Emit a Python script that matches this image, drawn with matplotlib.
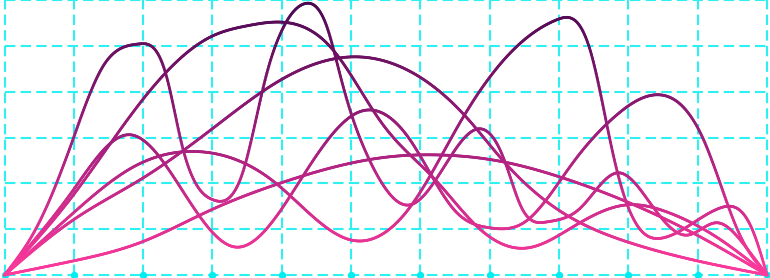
import numpy as np
import matplotlib
matplotlib.use('Agg')
import matplotlib.pyplot as plt
from matplotlib.collections import LineCollection
from matplotlib.colors import LinearSegmentedColormap

# knots (x in grid columns 0..11, y in grid rows 0..6)
a_x = [0, 0.45, 0.95, 1.42, 1.93, 2.34, 2.55, 3.01, 3.45, 3.76, 3.99, 4.33, 4.65,
       4.87, 5.3, 5.85, 6.4, 6.86, 7.2, 7.45, 7.83,
       8.3, 8.85, 9.3, 9.85, 10.28, 10.7, 11]
a_y = [0, 1.0, 2.8, 4.55, 5.04, 4.32, 2.9, 1.64, 2.3, 4.26, 5.3, 5.92, 5.42,
       4.2, 2.4, 1.53, 2.5, 3.19, 2.55, 1.5, 1.16,
       1.45, 2.23, 1.6, 0.87, 1.14, 0.6, 0]

b_x = [0, 0.97, 1.98, 2.98, 3.51, 4.74, 5.45, 6.2, 6.86, 7.54, 8.2, 8.98, 9.6, 10.3, 11]
b_y = [0, 1.70, 3.80, 5.20, 5.44, 4.91, 3.3, 2.1, 1.0, 0.59, 1.05, 1.53, 1.35, 0.8, 0]

c_x = [0, 0.99, 1.98, 2.98, 3.99, 5.06, 5.99, 6.67, 7.19, 8.01, 8.99, 9.99, 11]
c_y = [0, 1.20, 2.10, 3.17, 4.26, 4.76, 4.32, 3.43, 2.50, 1.40, 0.72, 0.31, 0]

d_x = [0, 0.99, 1.81, 2.5, 3.33, 4.26, 5.12, 5.85, 6.5, 7.0, 7.5, 8.2, 8.8, 9.46,
       10.1, 10.6, 11]
d_y = [0, 1.85, 3.06, 2.0, 0.61, 2.05, 3.56, 2.95, 1.4, 1.03, 1.15, 2.45, 3.45, 3.93,
       2.9, 0.9, 0]

e_x = [0, 0.99, 1.85, 2.82, 3.9, 5.01, 5.85, 6.6, 7.4, 7.97, 8.45, 8.8, 9.1, 9.5,
       10.32, 10.8, 11]
e_y = [0, 1.35, 2.35, 2.69, 2.02, 0.76, 1.48, 3.4, 5.0, 5.57, 4.9, 2.5, 1.15, 0.81,
       1.46, 0.95, 0]

f_x = [0, 0.97, 1.98, 2.98, 3.99, 5.56, 6.24, 7.19, 8.01, 9.02, 9.99, 11]
f_y = [0, 0.30, 0.72, 1.42, 2.01, 2.58, 2.62, 2.47, 2.14, 1.57, 0.87, 0]

series = [(a_x, a_y), (b_x, b_y), (c_x, c_y), (d_x, d_y), (e_x, e_y), (f_x, f_y)]
tick_x = list(range(12))


def smooth(xs, ys, n=800):
    # natural cubic spline through the knots
    x = np.asarray(xs, float)
    y = np.asarray(ys, float)
    nk = len(x)
    h = np.diff(x)
    A = np.zeros((nk, nk))
    r = np.zeros(nk)
    A[0, 0] = A[-1, -1] = 1
    for i in range(1, nk - 1):
        A[i, i - 1] = h[i - 1]
        A[i, i] = 2 * (h[i - 1] + h[i])
        A[i, i + 1] = h[i]
        r[i] = 6 * ((y[i + 1] - y[i]) / h[i] - (y[i] - y[i - 1]) / h[i - 1])
    M = np.linalg.solve(A, r)
    xx = np.linspace(x[0], x[-1], n)
    k = np.clip(np.searchsorted(x, xx) - 1, 0, nk - 2)
    t0 = x[k + 1] - xx
    t1 = xx - x[k]
    hk = h[k]
    yy = (M[k] * t0**3 + M[k + 1] * t1**3) / (6 * hk) \
        + (y[k] / hk - M[k] * hk / 6) * t0 + (y[k + 1] / hk - M[k + 1] * hk / 6) * t1
    return xx, yy


cmap = LinearSegmentedColormap.from_list('grad', ['#ff3a9d', '#a01e7c', '#4a0852'])
grid_c = '#2ef0f0'

fig = plt.figure(figsize=(7.7, 2.78), dpi=100)
ax = fig.add_axes([4.5 / 770, 3 / 278, 762.5 / 770, 275 / 278])
ax.set_xlim(0, 11)
ax.set_ylim(0, 6)
for s in ax.spines.values():
    s.set_visible(False)
ax.set_xticks([])
ax.set_yticks([])

for v in range(12):
    ax.axvline(v, color=grid_c, lw=1.5, dashes=(5, 2.5), zorder=1, clip_on=False)
for v in range(7):
    ax.axhline(v, color=grid_c, lw=1.5, dashes=(5, 2.5), zorder=1, clip_on=False)

ax.scatter(tick_x, [0] * len(tick_x), s=28, color='#00eef0', zorder=2, clip_on=False,
           linewidths=0)

for xs, ys in series:
    xx, yy = smooth(xs, ys)
    pts = np.column_stack([xx, yy]).reshape(-1, 1, 2)
    segs = np.concatenate([pts[:-1], pts[1:]], axis=1)
    lc = LineCollection(segs, cmap=cmap, norm=plt.Normalize(0, 6), linewidths=2.0,
                        capstyle='round', zorder=3)
    lc.set_array((yy[:-1] + yy[1:]) / 2)
    lc.set_clip_on(False)
    ax.add_collection(lc)

fig.savefig('out.png', dpi=100)
